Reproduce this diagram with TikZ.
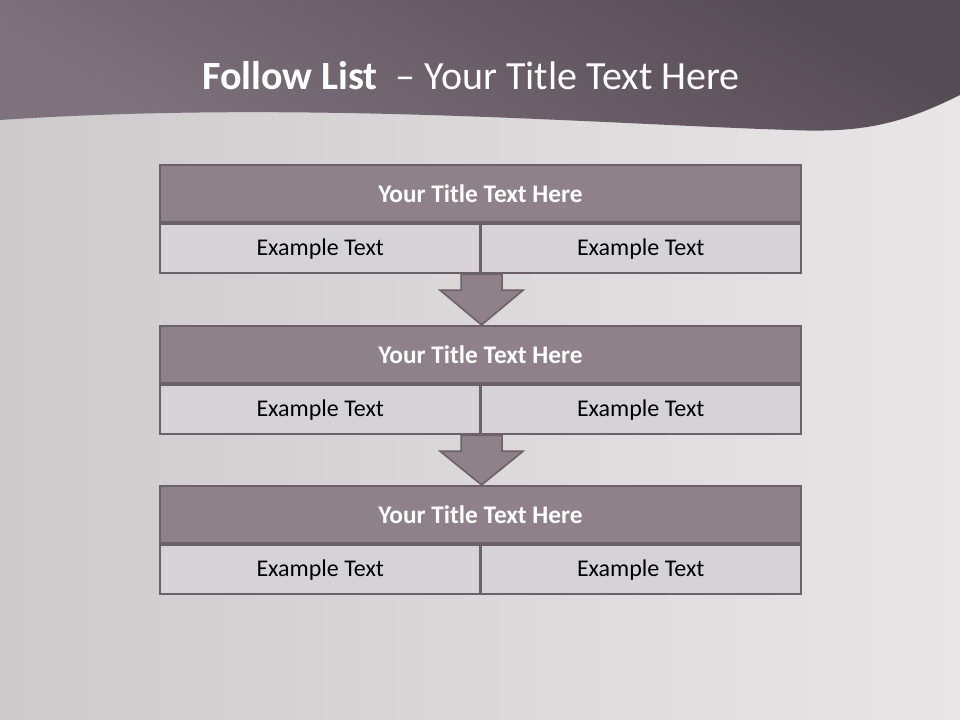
\documentclass[tikz,border=0pt]{standalone}
\usepackage{fontspec}
\setmainfont{Carlito}
\usetikzlibrary{positioning, calc}

\definecolor{headdark}{HTML}{554B54}
\definecolor{headlight}{HTML}{7E737D}
\definecolor{bgleft}{HTML}{CCCACB}
\definecolor{bgright}{HTML}{E8E6E7}
\definecolor{titlefill}{HTML}{8E8189}
\definecolor{cellfill}{HTML}{D5D3D6}
\definecolor{rim}{HTML}{6C6169}

\tikzset{
    titlebar/.style={draw=rim, line width=1.6pt, fill=titlefill, minimum width=480.75pt,
        minimum height=42.75pt, inner sep=0pt, text=white, font=\fontsize{19}{22}\selectfont\bfseries},
    cellbox/.style={draw=rim, line width=1.6pt, fill=cellfill, minimum width=240.375pt,
        minimum height=36.75pt, inner sep=0pt, text=black, font=\fontsize{18}{21}\selectfont},
    downarrow/.style={draw=rim, line width=1.2pt, fill=titlefill, line join=miter}
}

\begin{document}
\begin{tikzpicture}[x=0.75pt, y=-0.75pt]

    % page and background
    \useasboundingbox (0,0) rectangle (960,720);
    \shade[left color=bgleft, right color=bgright] (0,0) rectangle (960,720);

    % wavy header band
    \shade[top color=headdark, bottom color=headlight, shading angle=-30]
        (0,0) -- (960,0) -- (960,95)
        .. controls (900,125) and (860,133) .. (790,130)
        .. controls (600,124) and (300,100) .. (0,120) -- cycle;
    \node[text=white, font=\fontsize{30}{36}\selectfont] (head) at (471,76)
        {\textbf{Follow List}\ \ -- Your Title Text Here};

    % three steps
    \node[titlebar] (t1) at (480.5,193.5) {Your Title Text Here};
    \node[cellbox, anchor=north west] (a1) at (t1.south west) {Example Text};
    \node[cellbox, anchor=north east] (b1) at (t1.south east) {Example Text};

    \node[titlebar] (t2) at (480.5,354.5) {Your Title Text Here};
    \node[cellbox, anchor=north west] (a2) at (t2.south west) {Example Text};
    \node[cellbox, anchor=north east] (b2) at (t2.south east) {Example Text};

    \node[titlebar] (t3) at (480.5,514.5) {Your Title Text Here};
    \node[cellbox, anchor=north west] (a3) at (t3.south west) {Example Text};
    \node[cellbox, anchor=north east] (b3) at (t3.south east) {Example Text};

    % arrows between the steps
    \foreach \up/\down in {a1/t2, a2/t3}{
        \draw[downarrow] ($(\up.south east)+(-20.5,0)$) -- ++(0,16) -- ++(-21,0)
            -- ($(\down.north west -| \up.south east)$) -- ($(\up.south east)+(41.5,16)$)
            -- ++(-21,0) -- ++(0,-16) -- cycle;
    }

\end{tikzpicture}
\end{document}
